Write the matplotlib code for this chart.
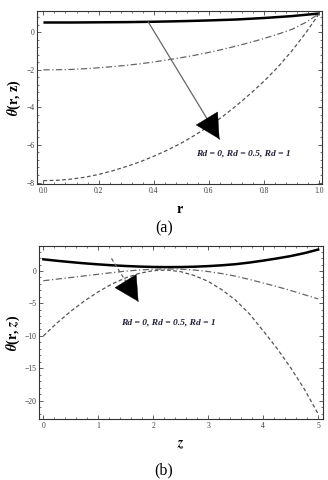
import numpy as np
import matplotlib
matplotlib.use('Agg')
import matplotlib.pyplot as plt
from matplotlib.ticker import MultipleLocator

plt.rcParams['font.family'] = ['Liberation Serif', 'DejaVu Serif']
plt.rcParams['mathtext.fontset'] = 'stix'

# panel (a): theta vs r
r = [0.0, 0.05, 0.1, 0.15, 0.2, 0.25, 0.3, 0.35, 0.4, 0.45, 0.5,
     0.55, 0.6, 0.65, 0.7, 0.75, 0.8, 0.85, 0.9, 0.95, 1.0]
theta_a_rd0 = [0.52, 0.52, 0.52, 0.525, 0.53, 0.535, 0.54, 0.55, 0.56, 0.575, 0.59,
               0.61, 0.63, 0.655, 0.68, 0.72, 0.76, 0.81, 0.86, 0.93, 1.0]
theta_a_rd05 = [-2.0, -1.995, -1.98, -1.94, -1.89, -1.83, -1.76, -1.68, -1.58, -1.47, -1.35,
                -1.22, -1.07, -0.91, -0.73, -0.54, -0.33, -0.1, 0.15, 0.52, 1.0]
theta_a_rd1 = [-7.9, -7.88, -7.82, -7.72, -7.57, -7.38, -7.15, -6.9, -6.6, -6.27, -5.9,
               -5.47, -5.0, -4.48, -3.9, -3.27, -2.6, -1.85, -1.0, -0.05, 1.0]

# panel (b): theta vs z
z = [0.0, 0.25, 0.5, 0.75, 1.0, 1.25, 1.5, 1.75, 2.0, 2.25, 2.5,
     2.75, 3.0, 3.25, 3.5, 3.75, 4.0, 4.25, 4.5, 4.75, 5.0]
theta_b_rd0 = [1.8, 1.57, 1.37, 1.18, 1.02, 0.88, 0.77, 0.68, 0.62, 0.6, 0.61,
               0.66, 0.75, 0.88, 1.05, 1.3, 1.6, 1.93, 2.3, 2.75, 3.3]
theta_b_rd05 = [-1.5, -1.25, -1.0, -0.75, -0.5, -0.25, -0.02, 0.15, 0.27, 0.32, 0.28,
                0.15, -0.08, -0.4, -0.8, -1.3, -1.85, -2.4, -3.0, -3.65, -4.3]
theta_b_rd1 = [-10.0, -8.0, -6.2, -4.6, -3.2, -2.0, -1.05, -0.35, 0.05, 0.15, -0.1,
               -0.7, -1.6, -2.9, -4.5, -6.6, -9.2, -11.9, -14.9, -18.2, -22.0]

label_text = 'Rd = 0, Rd = 0.5, Rd = 1'
tick_col = '#3c3c3c'


def style_axes(ax):
    ax.tick_params(which='both', direction='in', top=True, right=True,
                   labelsize=5.5, labelcolor=tick_col, color='#444444', pad=2)
    ax.tick_params(which='major', length=3, width=0.6)
    ax.tick_params(which='minor', length=1.6, width=0.5)
    for s in ax.spines.values():
        s.set_linewidth(0.8)
        s.set_color('#333333')


def draw_arrow(ax, start, tip, ls):
    ax.plot([start[0], tip[0]], [start[1], tip[1]], color='#666666', lw=0.9, ls=ls)
    back = (tip[0] - 0.06 * (tip[0] - start[0]), tip[1] - 0.06 * (tip[1] - start[1]))
    ax.annotate('', xy=tip, xytext=back,
                arrowprops=dict(arrowstyle='-|>,head_length=0.95,head_width=0.5',
                                lw=0.3, mutation_scale=18, fc='black', ec='black',
                                shrinkA=0, shrinkB=0))


fig = plt.figure(figsize=(3.28, 4.8), dpi=100)

# (a)
ax1 = fig.add_axes([0.113, 0.617, 0.869, 0.36])
ax1.plot(r, theta_a_rd0, color='black', lw=1.8, solid_capstyle='butt')
ax1.plot(r, theta_a_rd05, color='#666666', lw=0.9, ls=(0, (5, 2, 1, 2)))
ax1.plot(r, theta_a_rd1, color='#555555', lw=0.9, ls=(0, (3, 2)))
draw_arrow(ax1, (0.38, 0.55), (0.638, -5.69), '-')
ax1.text(0.725, -6.47, label_text, fontsize=6.8, ha='center', va='center',
         color='#202038', style='italic', weight='bold')
ax1.set_xlim(-0.023, 1.01)
ax1.set_ylim(-8.07, 1.13)
ax1.xaxis.set_major_locator(MultipleLocator(0.2))
ax1.xaxis.set_minor_locator(MultipleLocator(0.04))
ax1.yaxis.set_major_locator(MultipleLocator(2))
ax1.yaxis.set_minor_locator(MultipleLocator(0.4))
ax1.set_xlabel('r', fontsize=10, weight='bold', labelpad=6)
ax1.set_ylabel(r'$\boldsymbol{\theta}$(r, z)', fontsize=10, weight='bold', labelpad=2)
style_axes(ax1)
fig.text(0.5, 1 - 228 / 480, '(a)', fontsize=11.5, ha='center', va='center')

# (b)
ax2 = fig.add_axes([0.119, 0.127, 0.866, 0.3605])
ax2.plot(z, theta_b_rd0, color='black', lw=1.8)
ax2.plot(z, theta_b_rd05, color='#666666', lw=0.9, ls=(0, (5, 2, 1, 2)))
ax2.plot(z, theta_b_rd1, color='#555555', lw=0.9, ls=(0, (3, 2)))
draw_arrow(ax2, (1.24, 1.95), (1.73, -4.72), (0, (3, 2)))
ax2.text(2.27, -7.95, label_text, fontsize=6.8, ha='center', va='center',
         color='#202038', style='italic', weight='bold')
ax2.set_xlim(-0.078, 5.09)
ax2.set_ylim(-22.8, 3.85)
ax2.xaxis.set_major_locator(MultipleLocator(1))
ax2.xaxis.set_minor_locator(MultipleLocator(0.2))
ax2.yaxis.set_major_locator(MultipleLocator(5))
ax2.yaxis.set_minor_locator(MultipleLocator(1))
ax2.set_xlabel(r'$\mathbfit{z}$', fontsize=10, labelpad=6)
ax2.set_ylabel(r'$\boldsymbol{\theta}$(r, $\mathbfit{z}$)', fontsize=10, weight='bold', labelpad=2)
style_axes(ax2)
fig.text(0.5, 1 - 470 / 480, '(b)', fontsize=11.5, ha='center', va='center')

fig.savefig('out.png', dpi=100, facecolor='white')
